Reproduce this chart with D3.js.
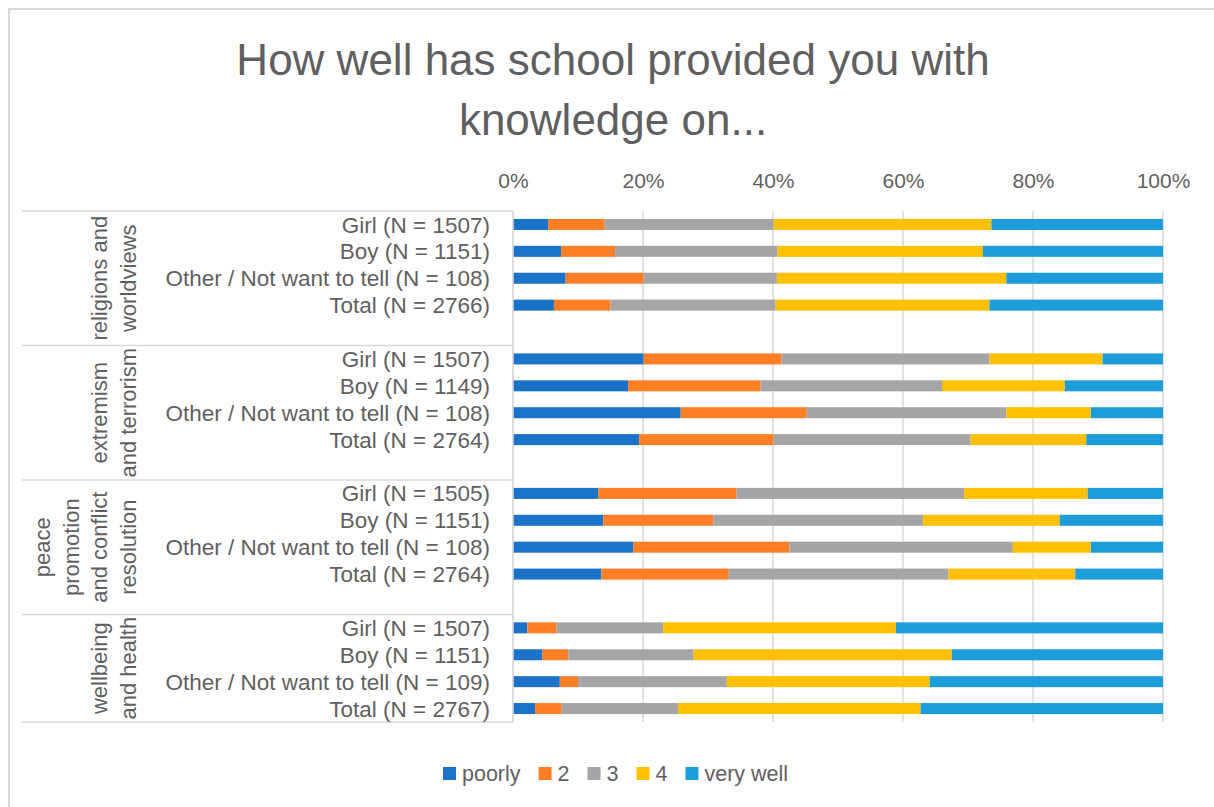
<!DOCTYPE html>
<html>
<head>
<meta charset="utf-8">
<title>How well has school provided you with knowledge on...</title>
<script src="https://cdn.jsdelivr.net/npm/d3@7"></script>
<style>
  body { margin: 0; background: #fff; }
  svg { display: block; font-family: "Liberation Sans", Arial, sans-serif; }
  .lbl { fill: #5f5f5f; }
  .grid line { stroke: #d9d9d9; stroke-width: 1.5px; }
</style>
</head>
<body>
<script>
// topics (outer category level), with wrapped lines as shown
const topics = [
  ["religions and", "worldviews"],
  ["extremism", "and terrorism"],
  ["peace", "promotion", "and conflict", "resolution"],
  ["wellbeing", "and health"]
];
// respondent groups per topic
const groups = [
  ["Girl (N = 1507)", "Boy (N = 1151)", "Other / Not want to tell (N = 108)", "Total (N = 2766)"],
  ["Girl (N = 1507)", "Boy (N = 1149)", "Other / Not want to tell (N = 108)", "Total (N = 2764)"],
  ["Girl (N = 1505)", "Boy (N = 1151)", "Other / Not want to tell (N = 108)", "Total (N = 2764)"],
  ["Girl (N = 1507)", "Boy (N = 1151)", "Other / Not want to tell (N = 109)", "Total (N = 2767)"]
];
const seriesNames = ["poorly", "2", "3", "4", "very well"];
const seriesColors = ["#1a73c9", "#ff7f27", "#a5a5a5", "#ffc000", "#1c9cd8"];
// percentages, in the row order above (4 topics x 4 groups)
const poorly   = [5.4, 7.4, 8.1, 6.3,  20.1, 17.7, 25.8, 19.4,  13.1, 13.9, 18.5, 13.6,  2.2, 4.5, 7.2, 3.4];
const score2   = [8.7, 8.3, 12.0, 8.7, 21.2, 20.4, 19.4, 20.7,  21.3, 16.9, 24.0, 19.6,  4.5, 4.0, 2.8, 4.1];
const score3   = [26.0, 25.0, 20.5, 25.4, 32.0, 27.9, 30.7, 30.3, 35.0, 32.3, 34.4, 33.8, 16.4, 19.3, 22.9, 17.9];
const score4   = [33.5, 31.6, 35.3, 32.9, 17.4, 18.9, 13.0, 17.8, 19.0, 21.0, 12.0, 19.5, 35.8, 39.7, 31.2, 37.3];
const veryWell = [26.4, 27.7, 24.1, 26.7, 9.3, 15.1, 11.1, 11.8,  11.6, 15.9, 11.1, 13.5,  41.1, 32.5, 35.9, 37.3];
const xTicks = [0, 20, 40, 60, 80, 100];

const width = 1214, height = 807;
const svg = d3.select("body").append("svg")
  .attr("width", width).attr("height", height);

// chart border (only top and left edges fall inside the picture)
svg.append("path")
  .attr("d", "M9,807V9H1214")
  .attr("fill", "none").attr("stroke", "#d9d9d9").attr("stroke-width", 2);

// title
const title = svg.append("text").attr("class", "lbl")
  .attr("text-anchor", "middle").attr("font-size", 44);
title.append("tspan").attr("x", 613).attr("y", 75).text("How well has school provided you with");
title.append("tspan").attr("x", 613).attr("y", 135).text("knowledge on...");

// rows: each topic has its groups, then an empty slot (except the last)
const rows = [];
const slots = [];
topics.forEach((t, ti) => {
  groups[ti].forEach((g, gi) => {
    const idx = ti * 4 + gi;
    const key = ti + "|" + gi;
    slots.push(key);
    rows.push({
      key, topic: ti, label: g,
      values: [poorly[idx], score2[idx], score3[idx], score4[idx], veryWell[idx]]
    });
  });
  if (ti < topics.length - 1) slots.push(ti + "|gap");
});

const plotTop = 211, plotBottom = 722, plotLeft = 513, plotRight = 1163;
const x = d3.scaleLinear().domain([0, 100]).range([plotLeft, plotRight]);
const y = d3.scaleBand().domain(slots).range([plotTop, plotBottom])
  .paddingInner(0.59).paddingOuter(0.295);

// gridlines
svg.append("g").attr("class", "grid")
  .selectAll("line").data(xTicks).join("line")
  .attr("x1", d => x(d)).attr("x2", d => x(d))
  .attr("y1", plotTop).attr("y2", plotBottom);

// top axis labels
const xAxis = svg.append("g")
  .attr("transform", `translate(0,${plotTop})`)
  .call(d3.axisTop(x).tickValues(xTicks).tickFormat(d => d + "%").tickSize(0).tickPadding(23));
xAxis.select(".domain").remove();
xAxis.selectAll("text")
  .attr("class", "lbl")
  .attr("fill", null)
  .style("font-family", "Liberation Sans, Arial, sans-serif")
  .style("font-size", "21px");

// stacked bars
const stacked = rows.map(r => {
  let acc = 0;
  return r.values.map((v, i) => {
    const seg = { key: r.key, i, x0: acc, x1: acc + v };
    acc += v;
    return seg;
  });
});
svg.append("g").selectAll("g").data(stacked).join("g")
  .selectAll("rect").data(d => d).join("rect")
  .attr("x", d => x(d.x0))
  .attr("width", d => Math.max(0, x(Math.min(d.x1, 100)) - x(d.x0)))
  .attr("y", d => y(d.key))
  .attr("height", y.bandwidth())
  .attr("fill", d => seriesColors[d.i]);

// category axis: separators
const step = y.step();
const bounds = [0];
let count = 0;
topics.forEach((t, ti) => {
  count += groups[ti].length + (ti < topics.length - 1 ? 1 : 0);
  bounds.push(count);
});
svg.append("g").selectAll("line").data(bounds).join("line")
  .attr("x1", 22).attr("x2", plotLeft)
  .attr("y1", d => plotTop + d * step).attr("y2", d => plotTop + d * step)
  .attr("stroke", "#d9d9d9").attr("stroke-width", 1.5);
svg.append("line")
  .attr("x1", plotLeft).attr("x2", plotLeft)
  .attr("y1", plotTop).attr("y2", plotBottom)
  .attr("stroke", "#d9d9d9").attr("stroke-width", 1.5);

// row labels
svg.append("g").selectAll("text").data(rows).join("text")
  .attr("class", "lbl")
  .attr("x", 490)
  .attr("y", d => y(d.key) + y.bandwidth() / 2)
  .attr("dy", "0.36em")
  .attr("text-anchor", "end")
  .attr("font-size", 22.5)
  .text(d => d.label);

// topic labels, rotated
topics.forEach((lines, ti) => {
  const cy = plotTop + (bounds[ti] + bounds[ti + 1]) / 2 * step;
  const n = lines.length;
  lines.forEach((line, li) => {
    const cx = 128 - (n - 1 - li) * 28.7;
    svg.append("text").attr("class", "lbl")
      .attr("transform", `translate(${cx + 8},${cy}) rotate(-90)`)
      .attr("text-anchor", "middle")
      .attr("font-size", 22)
      .text(line);
  });
});

// legend
const legend = svg.append("g");
let lx = 443;
seriesNames.forEach((name, i) => {
  legend.append("rect")
    .attr("x", lx).attr("y", 767).attr("width", 13).attr("height", 13)
    .attr("fill", seriesColors[i]);
  const t = legend.append("text").attr("class", "lbl")
    .attr("x", lx + 19).attr("y", 781)
    .attr("font-size", 21.5)
    .text(name);
  lx += 19 + t.node().getComputedTextLength() + 18;
});
</script>
</body>
</html>
